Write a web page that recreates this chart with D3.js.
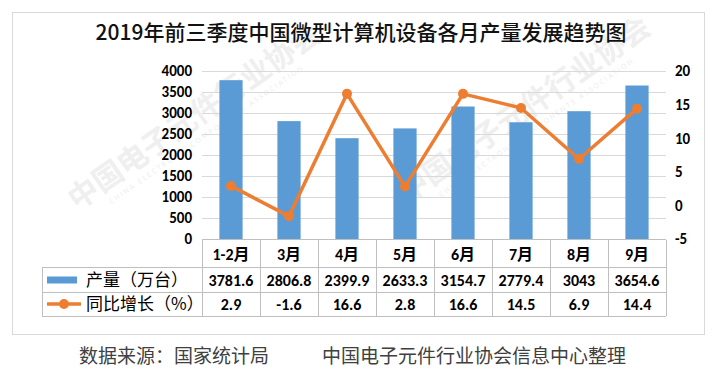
<!DOCTYPE html>
<html>
<head>
<meta charset="utf-8">
<script src="https://cdn.jsdelivr.net/npm/d3@7"></script>
<style>
  body { margin: 0; background: #fff; }
  svg text { font-family: Carlito, "Liberation Sans", "Noto Sans CJK SC", sans-serif; }
</style>
</head>
<body>
<svg width="719" height="370"></svg>
<script>
var months = ["1-2月", "3月", "4月", "5月", "6月", "7月", "8月", "9月"];
var output = [3781.6, 2806.8, 2399.9, 2633.3, 3154.7, 2779.4, 3043, 3654.6];
var growth = [2.9, -1.6, 16.6, 2.8, 16.6, 14.5, 6.9, 14.4];
var outputLabels = ["3781.6", "2806.8", "2399.9", "2633.3", "3154.7", "2779.4", "3043", "3654.6"];
var growthLabels = ["2.9", "-1.6", "16.6", "2.8", "16.6", "14.5", "6.9", "14.4"];
var leftTicks = [0, 500, 1000, 1500, 2000, 2500, 3000, 3500, 4000];
var rightTicks = [-5, 0, 5, 10, 15, 20];
var seriesNames = ["产量（万台）", "同比增长（%）"];
var title = "2019年前三季度中国微型计算机设备各月产量发展趋势图";
var sourceText = "数据来源：国家统计局";
var orgText = "中国电子元件行业协会信息中心整理";

var cjk = '"Noto Sans CJK SC", sans-serif';
var blue = "#5B9BD5", orange = "#ED7D31";

var svg = d3.select("svg");

// outer border
svg.append("rect")
  .attr("x", 12.5).attr("y", 12.5).attr("width", 692).attr("height", 322)
  .attr("fill", "#fff").attr("stroke", "#d9d9d9");

// faint watermark
var wm = [[200, 125], [530, 118]];
wm.forEach(function(p) {
  var g = svg.append("g")
    .attr("transform", "translate(" + p[0] + "," + p[1] + ") rotate(-35)")
    .attr("fill", "#efefef");
  g.append("text").attr("text-anchor", "middle").attr("font-size", 30)
    .style("font-family", cjk).style("font-weight", "bold")
    .text("中国电子元件行业协会");
  g.append("text").attr("text-anchor", "middle").attr("font-size", 8).attr("y", 14)
    .attr("letter-spacing", 2)
    .text("CHINA ELECTRONIC COMPONENTS ASSOCIATION");
});

svg.append("text")
  .attr("x", 361).attr("y", 40)
  .attr("text-anchor", "middle")
  .attr("font-size", 21)
  .style("font-family", cjk)
  .style("font-weight", "500")
  .attr("fill", "#111")
  .text(title);

var x = d3.scaleBand().domain(months).range([202, 666]);
var yl = d3.scaleLinear().domain([0, 4000]).range([239, 71]);
var yr = d3.scaleLinear().domain([-5, 20]).range([239, 71]);
var plain = function(d) { return String(d); };

// gridlines
svg.append("g")
  .attr("transform", "translate(202,0)")
  .call(d3.axisLeft(yl).tickValues(leftTicks).tickSize(-464).tickFormat(""))
  .call(function(g) {
    g.select(".domain").remove();
    g.selectAll("line").attr("stroke", "#d9d9d9");
  });

// left axis
svg.append("g")
  .attr("transform", "translate(192,0)")
  .call(d3.axisLeft(yl).tickValues(leftTicks).tickSize(0).tickPadding(0).tickFormat(plain))
  .call(function(g) {
    g.select(".domain").remove();
    g.selectAll("text").attr("font-size", 15).attr("font-weight", "bold").attr("fill", "#000");
  });

// right axis
svg.append("g")
  .attr("transform", "translate(675,0)")
  .call(d3.axisRight(yr).tickValues(rightTicks).tickSize(0).tickPadding(0).tickFormat(plain))
  .call(function(g) {
    g.select(".domain").remove();
    g.selectAll("text").attr("font-size", 15).attr("font-weight", "bold").attr("fill", "#000");
  });

// bars
var bw = x.bandwidth() * 0.4;
svg.append("g").selectAll("rect")
  .data(output)
  .enter()
  .append("rect")
  .attr("x", function(d, i) { return x(months[i]) + (x.bandwidth() - bw) / 2; })
  .attr("y", function(d) { return yl(d); })
  .attr("width", bw)
  .attr("height", function(d) { return yl(0) - yl(d); })
  .attr("fill", blue);

// line
var cx = function(d, i) { return x(months[i]) + x.bandwidth() / 2; };
svg.append("path")
  .datum(growth)
  .attr("d", d3.line().x(cx).y(function(d) { return yr(d); }))
  .attr("fill", "none")
  .attr("stroke", orange)
  .attr("stroke-width", 3.5)
  .attr("stroke-linejoin", "round");
svg.append("g").selectAll("circle")
  .data(growth)
  .enter()
  .append("circle")
  .attr("cx", cx)
  .attr("cy", function(d) { return yr(d); })
  .attr("r", 5)
  .attr("fill", orange);

// data table
var rows = [240, 267, 292, 316];
var tg = svg.append("g").attr("stroke", "#bfbfbf").attr("stroke-width", 1);
tg.append("line").attr("x1", 202).attr("x2", 666).attr("y1", 239.5).attr("y2", 239.5);
[1, 2, 3].forEach(function(r) {
  tg.append("line").attr("x1", 42).attr("x2", 666).attr("y1", rows[r] + 0.5).attr("y2", rows[r] + 0.5);
});
tg.append("line").attr("x1", 42.5).attr("x2", 42.5).attr("y1", rows[1]).attr("y2", rows[3]);
months.concat(["end"]).forEach(function(m, i) {
  var xx = i < months.length ? x(m) : x.range()[1];
  tg.append("line").attr("x1", Math.round(xx) + 0.5).attr("x2", Math.round(xx) + 0.5)
    .attr("y1", rows[0]).attr("y2", rows[3]);
});

svg.append("g").selectAll("text")
  .data(months)
  .enter()
  .append("text")
  .attr("x", function(d) { return x(d) + x.bandwidth() / 2; })
  .attr("y", (rows[0] + rows[1]) / 2 + 6)
  .attr("text-anchor", "middle")
  .attr("font-size", 16)
  .attr("font-weight", "bold")
  .text(function(d) { return d; });

[outputLabels, growthLabels].forEach(function(labels, r) {
  svg.append("g").selectAll("text")
    .data(labels)
    .enter()
    .append("text")
    .attr("x", function(d, i) { return x(months[i]) + x.bandwidth() / 2; })
    .attr("y", (rows[r + 1] + rows[r + 2]) / 2 + 6)
    .attr("text-anchor", "middle")
    .attr("font-size", 16)
    .attr("font-weight", "bold")
    .text(function(d) { return d; });
});

// legend keys in table
var r1 = (rows[1] + rows[2]) / 2, r2 = (rows[2] + rows[3]) / 2;
svg.append("rect").attr("x", 47).attr("y", r1 - 3).attr("width", 30).attr("height", 7).attr("fill", blue);
svg.append("line").attr("x1", 47).attr("x2", 81).attr("y1", r2).attr("y2", r2)
  .attr("stroke", orange).attr("stroke-width", 3.5);
svg.append("circle").attr("cx", 64).attr("cy", r2).attr("r", 5).attr("fill", orange);
seriesNames.forEach(function(n, i) {
  svg.append("text")
    .attr("x", 86).attr("y", (i === 0 ? r1 : r2) + 6)
    .attr("font-size", 17)
    .style("font-family", cjk)
    .attr("fill", "#000")
    .text(n);
});

// footer
svg.append("text").attr("x", 79).attr("y", 363).attr("font-size", 19)
  .style("font-family", cjk).attr("fill", "#404040").text(sourceText);
svg.append("text").attr("x", 322).attr("y", 363).attr("font-size", 19)
  .style("font-family", cjk).attr("fill", "#404040").text(orgText);
</script>
</body>
</html>
